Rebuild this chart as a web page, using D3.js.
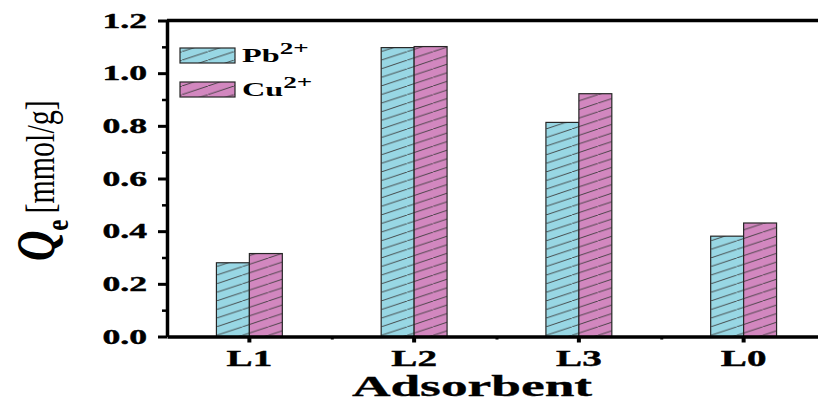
<!DOCTYPE html>
<html>
<head>
<meta charset="utf-8">
<script src="https://cdn.jsdelivr.net/npm/d3@7"></script>
<style>
  html, body { margin: 0; padding: 0; background: #fff; }
  svg { display: block; }
</style>
</head>
<body>
<svg id="chart" width="818" height="402"></svg>
<script>
// Adsorption capacity per adsorbent
const categories = ["L1", "L2", "L3", "L0"];
const seriesKeys = ["Pb", "Cu"];
const pbValues = [0.28, 1.097, 0.813, 0.381];
const cuValues = [0.315, 1.101, 0.922, 0.431];
const yMajorTicks = [0, 0.2, 0.4, 0.6, 0.8, 1.0, 1.2];
const yMinorTicks = [0.1, 0.3, 0.5, 0.7, 0.9, 1.1];
const legendLabels = ["Pb", "Cu"];
const legendCharges = ["2+", "2+"];

const colors = { Pb: "#98d7e4", Cu: "#d287bf" };
const SERIF = "'Liberation Serif', 'Times New Roman', serif";
const SX = 1.7; // horizontal stretch of the lettering

const svg = d3.select("#chart");
const plot = { left: 167, right: 826, top: 20.5, bottom: 336.5 };

const x = d3.scaleBand().domain(categories).range([plot.left, plot.right]).padding(0);
const groupW = x.bandwidth() * 0.4;
const xSub = d3.scaleBand().domain(seriesKeys).range([0, groupW]).padding(0);
const y = d3.scaleLinear().domain([0, 1.2]).range([plot.bottom, plot.top]);

// Hatch patterns
const defs = svg.append("defs");
seriesKeys.forEach(k => {
  const w = 26, h = 8.6;
  const p = defs.append("pattern")
    .attr("id", "hatch-" + k)
    .attr("patternUnits", "userSpaceOnUse")
    .attr("width", w).attr("height", h);
  p.append("rect").attr("width", w).attr("height", h).attr("fill", colors[k]);
  p.append("path")
    .attr("d", `M${-w * 0.1},${h * 1.1} L${w * 1.1},${-h * 0.1}`)
    .attr("stroke", "#3a3a3a").attr("stroke-width", 0.9).attr("fill", "none");
});

// Bars
const rows = categories.map((c, i) => ({ cat: c, Pb: pbValues[i], Cu: cuValues[i] }));
const groups = svg.append("g").selectAll("g").data(rows).join("g")
  .attr("transform", d => `translate(${x(d.cat) + (x.bandwidth() - groupW) / 2},0)`);
groups.selectAll("rect")
  .data(d => seriesKeys.map(k => ({ key: k, value: d[k] })))
  .join("rect")
  .attr("x", d => xSub(d.key))
  .attr("y", d => y(d.value))
  .attr("width", xSub.bandwidth())
  .attr("height", d => y(0) - y(d.value))
  .attr("fill", d => `url(#hatch-${d.key})`)
  .attr("stroke", "#262626")
  .attr("stroke-width", 1.2);

// Y axis: minor ticks
svg.append("g")
  .attr("transform", `translate(${plot.left},0)`)
  .call(d3.axisLeft(y).tickValues(yMinorTicks).tickSize(5).tickFormat(""))
  .call(g => g.select(".domain").remove())
  .call(g => g.selectAll("line").attr("stroke", "#000").attr("stroke-width", 2.5));

// Y axis: major ticks and labels
const yAxisG = svg.append("g")
  .attr("transform", `translate(${plot.left},0)`)
  .call(d3.axisLeft(y).tickValues(yMajorTicks).tickSize(9).tickSizeOuter(0)
    .tickFormat(d3.format(".1f")));
yAxisG.select(".domain").attr("stroke", "#000").attr("stroke-width", 3.5);
yAxisG.selectAll("line").attr("stroke", "#000").attr("stroke-width", 3);
yAxisG.selectAll("text")
  .attr("font-family", SERIF).attr("font-size", 21).attr("font-weight", "bold")
  .attr("fill", "#000").attr("stroke", "#000").attr("stroke-width", 0.4)
  .attr("x", -20 / SX)
  .attr("transform", `scale(${SX},1)`);

// X axis: minor ticks at band edges
const xMinor = d3.scaleLinear().domain([0, categories.length]).range([plot.left, plot.right]);
svg.append("g")
  .attr("transform", `translate(0,${plot.bottom})`)
  .call(d3.axisBottom(xMinor).tickValues([1, 2, 3]).tickSize(3).tickFormat(""))
  .call(g => g.select(".domain").remove())
  .call(g => g.selectAll("line").attr("stroke", "#000").attr("stroke-width", 3));

// X axis: category ticks and labels
const xAxisG = svg.append("g")
  .attr("transform", `translate(0,${plot.bottom})`)
  .call(d3.axisBottom(x).tickSize(6).tickSizeOuter(0).tickPadding(7.5));
xAxisG.select(".domain").attr("stroke", "#000").attr("stroke-width", 3.5);
xAxisG.selectAll("line").attr("stroke", "#000").attr("stroke-width", 4);
xAxisG.selectAll("text")
  .attr("font-family", SERIF).attr("font-size", 23).attr("font-weight", "bold")
  .attr("fill", "#000").attr("stroke", "#000").attr("stroke-width", 0.4)
  .attr("transform", `scale(${SX},1)`);

// Frame: top and right edges
svg.append("path")
  .attr("d", `M${plot.left},${plot.top} H${plot.right} V${plot.bottom}`)
  .attr("fill", "none").attr("stroke", "#000").attr("stroke-width", 3.5);

// X axis title
svg.append("g")
  .attr("transform", `translate(472,396) scale(1.78,1)`)
  .append("text")
  .attr("text-anchor", "middle")
  .attr("font-family", SERIF).attr("font-size", 30).attr("font-weight", "bold")
  .attr("stroke", "#000").attr("stroke-width", 0.3)
  .text("Adsorbent");

// Y axis title
const yTitle = svg.append("g")
  .attr("transform", `translate(54,261) scale(1.3,1) rotate(-90)`)
  .append("text")
  .attr("font-family", SERIF).attr("fill", "#000");
yTitle.append("tspan").attr("font-size", 42).attr("font-style", "italic")
  .attr("font-weight", "bold").text("Q");
yTitle.append("tspan").attr("font-size", 25).attr("font-weight", "bold").attr("dy", 11).text("e");
yTitle.append("tspan").attr("font-size", 30).attr("dy", -11).attr("dx", 6).text("[mmol/g]");

// Legend
const legend = svg.append("g");
const legendRowsY = [48, 82];
seriesKeys.forEach((k, i) => {
  const ly = legendRowsY[i];
  legend.append("rect")
    .attr("x", 180).attr("y", ly).attr("width", 55).attr("height", 15)
    .attr("fill", `url(#hatch-${k})`)
    .attr("stroke", "#262626").attr("stroke-width", 1.2);
  const t = legend.append("g")
    .attr("transform", `translate(242,${ly + 14}) scale(${SX},1)`)
    .append("text")
    .attr("font-family", SERIF).attr("font-weight", "bold").attr("fill", "#000");
  t.append("tspan").attr("font-size", 19).text(legendLabels[i]);
  t.append("tspan").attr("font-size", 16).attr("dy", -8).text(legendCharges[i]);
});
</script>
</body>
</html>
